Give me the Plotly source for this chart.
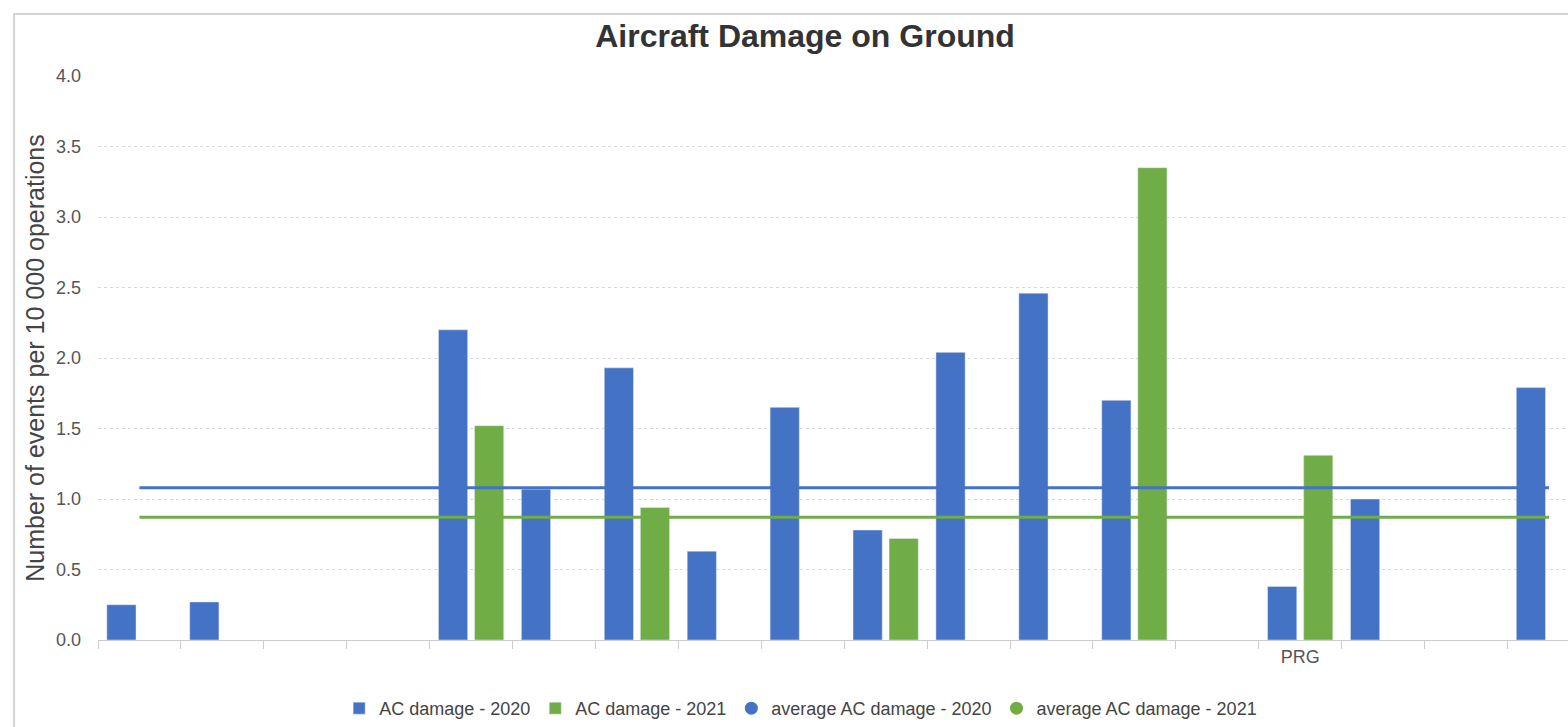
import plotly.graph_objects as go

# ---- data ----
categories = ["c01", "c02", "c03", "c04", "c05", "c06", "c07", "c08", "c09",
              "c10", "c11", "c12", "c13", "c14", "c15", "c16", "c17", "c18"]
tick_labels = ["", "", "", "", "", "", "", "", "",
               "", "", "", "", "", "PRG", "", "", ""]
ac_damage_2020 = [0.25, 0.27, None, None, 2.20, 1.07, 1.93, 0.63, 1.65,
                  0.78, 2.04, 2.46, 1.70, None, 0.38, 1.00, None, 1.79]
ac_damage_2021 = [None, None, None, None, 1.52, None, 0.94, None, None,
                  0.72, None, None, 3.35, None, 1.31, None, None, None]
avg_2020 = 1.08
avg_2021 = 0.87

BLUE = "#4472C4"
GREEN = "#70AD47"
FONT = "Liberation Sans, Arial, sans-serif"

fig = go.Figure()
fig.add_trace(go.Bar(x=categories, y=ac_damage_2020, name="AC damage - 2020",
                     marker=dict(color=BLUE)))
fig.add_trace(go.Bar(x=categories, y=ac_damage_2021, name="AC damage - 2021",
                     marker=dict(color=GREEN)))
fig.add_trace(go.Scatter(x=categories, y=[avg_2020] * len(categories), mode="lines",
                         line=dict(color=BLUE, width=3), showlegend=False,
                         name="average AC damage - 2020"))
fig.add_trace(go.Scatter(x=categories, y=[avg_2021] * len(categories), mode="lines",
                         line=dict(color=GREEN, width=3), showlegend=False,
                         name="average AC damage - 2021"))
# legend-only entries with circle symbols
fig.add_trace(go.Scatter(x=[None], y=[None], mode="markers", name="average AC damage - 2020",
                         marker=dict(color=BLUE, size=13, symbol="circle")))
fig.add_trace(go.Scatter(x=[None], y=[None], mode="markers", name="average AC damage - 2021",
                         marker=dict(color=GREEN, size=13, symbol="circle")))

fig.update_layout(
    width=1568, height=727,
    margin=dict(l=98, r=0, t=76, b=87),
    paper_bgcolor="white", plot_bgcolor="white",
    font=dict(family=FONT, color="#444"),
    barmode="group", bargap=0.13, bargroupgap=0.19,
    title=dict(text="<b>Aircraft Damage on Ground</b>", xref="container", x=0.5134,
               xanchor="center", yref="container", y=0.951, yanchor="middle",
               font=dict(family=FONT, size=32, color="#333")),
    legend=dict(orientation="h", xanchor="center", x=0.478, yanchor="middle", y=-0.122,
                font=dict(family=FONT, size=18, color="#444"), bgcolor="rgba(0,0,0,0)",
                traceorder="normal"),
    showlegend=True,
)

fig.update_xaxes(type="category", categoryorder="array", categoryarray=categories,
                 tickmode="array", tickvals=categories, ticktext=tick_labels,
                 tickson="boundaries", ticks="outside", ticklen=8, tickcolor="#cccccc",
                 showgrid=False, showline=True, linecolor="#cccccc", linewidth=1,
                 range=[-0.5, 17.23], tickfont=dict(family=FONT, size=18, color="#555"))
fig.update_yaxes(range=[0, 4], dtick=0.5, tick0=0, tickformat=".1f",
                 showgrid=True, gridcolor="#d9d9d9", griddash="dot", gridwidth=1,
                 zeroline=False, showline=False, ticks="", ticklabelstandoff=16,
                 tickfont=dict(family=FONT, size=18, color="#555"),
                 title=dict(text="Number of events per 10 000 operations", standoff=4,
                            font=dict(family=FONT, size=25, color="#444")))

# outer frame of the chart
fig.add_shape(type="rect", xref="paper", yref="paper",
              x0=-0.0571, x1=1.05, y0=-0.25, y1=1.11,
              line=dict(color="#c8c8c8", width=1.5), fillcolor="rgba(0,0,0,0)", layer="below")

fig.write_html("out.html")
